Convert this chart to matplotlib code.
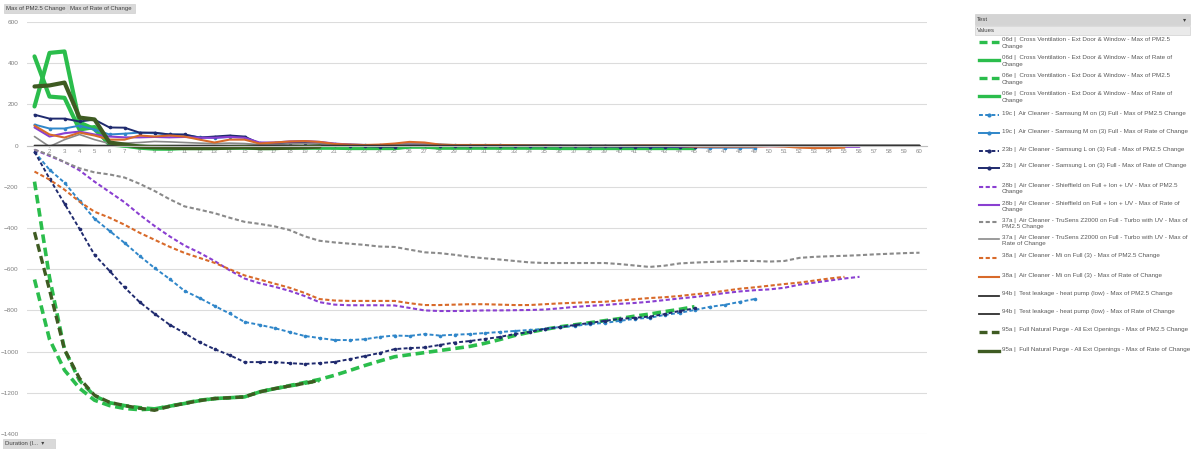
import matplotlib
matplotlib.use("Agg")
import matplotlib.pyplot as plt
import numpy as np
from matplotlib.lines import Line2D
from matplotlib.patches import Rectangle

plt.rcParams["font.family"] = ["Liberation Sans", "DejaVu Sans"]

W, H = 1192, 449
TEXT_COLOR = "#595959"

durations = list(range(1, 61))

# --- PM2.5 change series (dashed) ---
pm_06d = [-650, -940, -1090, -1178, -1236, -1262, -1276, -1282, -1278, -1265,
          -1252, -1238, -1228, -1224, -1220, -1195, -1180, -1165, -1150, -1135,
          -1115, -1092, -1068, -1046, -1025, -1015, -1005, -995, -985, -975,
          -960, -942, -922, -906, -892, -880, -870, -860, -850, -840,
          -828, -818, -806, -795, -782]
pm_06e = [-175, -640, -990, -1140, -1215, -1248, -1262, -1272, -1278, -1266,
          -1250, -1236, -1228, -1224, -1220, -1196, -1180, -1167, -1154, -1140]
pm_19c = [-30, -117, -180, -268, -355, -414, -472, -535, -594, -647,
          -705, -740, -778, -815, -856, -870, -886, -905, -924, -934,
          -944, -944, -940, -929, -922, -924, -915, -922, -918, -915,
          -910, -905, -900, -895, -890, -881, -876, -866, -861, -851,
          -841, -836, -822, -812, -798, -783, -773, -759, -745]
pm_23b = [-30, -160, -282, -404, -530, -608, -688, -759, -816, -869,
          -910, -954, -988, -1017, -1051, -1051, -1051, -1056, -1060, -1056,
          -1050, -1037, -1022, -1007, -988, -983, -980, -968, -956, -949,
          -939, -929, -915, -905, -890, -881, -871, -861, -851, -841,
          -836, -830, -818, -803, -790]
pm_28b = [-20, -50, -80, -120, -175, -225, -275, -335, -390, -440,
          -485, -520, -560, -605, -645, -668, -685, -705, -730, -760,
          -772, -775, -775, -775, -776, -788, -800, -803, -803, -802,
          -800, -800, -799, -798, -796, -790, -783, -778, -774, -768,
          -764, -758, -750, -742, -735, -726, -716, -708, -702, -698,
          -690, -675, -665, -655, -645, -637]
pm_37a = [-20, -45, -80, -110, -130, -140, -155, -185, -220, -260,
          -295, -311, -328, -350, -370, -380, -392, -410, -440, -462,
          -470, -476, -482, -490, -492, -505, -518, -522, -530, -540,
          -547, -553, -560, -567, -570, -570, -570, -570, -570, -575,
          -582, -589, -583, -572, -568, -565, -563, -560, -560, -563,
          -560, -545, -540, -537, -535, -532, -528, -525, -522, -520]
pm_38a = [-126, -165, -214, -272, -321, -350, -384, -423, -457, -491,
          -521, -545, -569, -600, -630, -650, -670, -690, -715, -745,
          -752, -754, -754, -754, -754, -765, -774, -774, -772, -770,
          -770, -772, -774, -774, -770, -766, -763, -760, -758, -752,
          -746, -740, -736, -730, -722, -715, -705, -695, -688, -680,
          -672, -665, -655, -645, -637]
pm_94b = [0, 0, 2, 2, 0, 0, 0, 0, 0, 0,
          0, 0, 0, 0, 0, 0, 0, 0, 0, 0,
          0, 0, 0, 0, 0, 0, 0, 0, 0, 0,
          0, 0, 0, 0, 0, 0, 0, 0, 0, 0,
          0, 0, 0, 0, 0, 0, 0, 0, 0, 0,
          0, 0, 0, 0, 0, 0, 0, 0, 0, 0]
pm_95a = [-420, -700, -990, -1130, -1212, -1246, -1262, -1275, -1285, -1266,
          -1252, -1238, -1228, -1224, -1220, -1196, -1180, -1167, -1154, -1140]

# --- Rate of change series (solid) ---
rate_06d = [433, 238, 232, 78, 90, 5, 0, -10, -15, -15,
            -12, -12, -12, -10, -10, -12, -12, -10, -10, -10,
            -10, -12, -12, -12, -12, -5, -5, -10, -10, -10,
            -10, -10, -10, -10, -10, -12, -12, -12, -12, -12,
            -12, -12, -12, -12, -12]
rate_06e = [190, 450, 457, 112, 80, 10, 0, -5, -10, -12,
            -10, -10, -10, -8, -8, -10, -10, -8, -8, -8,
            -8, -10, -10, -10, -10, -3, -3, -8, -8, -8,
            -8, -8, -8, -8, -8, -10, -10, -10, -10, -10,
            -10, -10, -10, -10, -10]
rate_19c = [102, 83, 83, 97, 78, 54, 58, 63, 60, 55,
            52, 40, 38, 42, 40, 12, 12, 15, 18, 15,
            8, 5, 3, 3, 0, 10, 10, 5, 3, 3,
            2, 2, 0, 0, 0, -2, -2, -3, -3, -3,
            -4, -5, -5, -6, -8, -10, -10, -10, -10]
rate_23b = [150, 131, 131, 117, 126, 88, 87, 63, 63, 54,
            54, 39, 44, 49, 44, 10, 10, 15, 12, 10,
            5, 0, -3, -5, -5, 5, 3, 0, -3, -3,
            -3, -3, -3, -3, -3, -3, -3, -4, -4, -5,
            -5, -5, -5, -6, -6]
rate_28b = [88, 44, 60, 68, 54, 44, 40, 40, 42, 40,
            42, 38, 38, 42, 38, 15, 15, 20, 22, 18,
            10, 5, 3, 2, 0, 8, 8, 3, 2, 2,
            0, 0, 0, 0, 0, 0, -2, -2, -2, -2,
            -2, -2, -2, -3, -3, -3, -3, -3, -3, -3,
            -3, -5, -5, -5, -6, -6]
rate_37a = [44, -5, 29, 54, 29, 10, 12, 15, 20, 18,
            15, 12, 10, 12, 10, 5, 5, 8, 10, 8,
            5, 3, 3, 3, 3, 8, 8, 5, 3, 3,
            3, 3, 3, 3, 3, 2, 2, 2, 2, 2,
            2, 2, 2, 2, 2, 2, 2, 2, 2, 2,
            2, 2, 2, 2, 2, 2, 2, 2, 2, 2]
rate_38a = [97, 54, 39, 63, 49, 29, 29, 49, 44, 49,
            44, 29, 15, 29, 29, 10, 15, 20, 22, 18,
            8, 5, 3, 5, 10, 18, 15, 5, 3, 3,
            3, 3, 2, 0, 0, -2, -2, -2, -2, -2,
            0, 0, 0, -2, -5, -5, -5, -5, -5, -3,
            -5, -10, -12, -12, -10]
rate_94b = [0, 0, 0, 0, 0, 0, 0, 0, 0, 0,
            0, 0, 0, 0, 0, 0, 0, 0, 0, 0,
            0, 0, 0, 0, 0, 0, 0, 0, 0, 0,
            0, 0, 0, 0, 0, 0, 0, 0, 0, 0,
            0, 0, 0, 0, 0, 0, 0, 0, 0, 0,
            0, 0, 0, 0, 0, 0, 0, 0, 0, 0]
rate_95a = [287, 292, 306, 136, 127, 15, 5, -5, -8, -10,
            -12, -12, -12, -10, -8, -12, -12, -10, -8, -5]

labels = [
    "06d |  Cross Ventilation - Ext Door & Window - Max of PM2.5\nChange",
    "06d |  Cross Ventilation - Ext Door & Window - Max of Rate of\nChange",
    "06e |  Cross Ventilation - Ext Door & Window - Max of PM2.5\nChange",
    "06e |  Cross Ventilation - Ext Door & Window - Max of Rate of\nChange",
    "19c |  Air Cleaner - Samsung M on (3) Full - Max of PM2.5 Change",
    "19c |  Air Cleaner - Samsung M on (3) Full - Max of Rate of Change",
    "23b |  Air Cleaner - Samsung L on (3) Full - Max of PM2.5 Change",
    "23b |  Air Cleaner - Samsung L on (3) Full - Max of Rate of Change",
    "28b |  Air Cleaner - Shieffield on Full + Ion + UV - Max of PM2.5\nChange",
    "28b |  Air Cleaner - Shieffield on Full + Ion + UV - Max of Rate of\nChange",
    "37a |  Air Cleaner - TruSens Z2000 on Full - Turbo with UV - Max of\nPM2.5 Change",
    "37a |  Air Cleaner - TruSens Z2000 on Full - Turbo with UV - Max of\nRate of Change",
    "38a |  Air Cleaner - Mi on Full (3) - Max of PM2.5 Change",
    "38a |  Air Cleaner - Mi on Full (3) - Max of Rate of Change",
    "94b |  Test leakage - heat pump (low) - Max of PM2.5 Change",
    "94b |  Test leakage - heat pump (low) - Max of Rate of Change",
    "95a |  Full Natural Purge - All Ext Openings - Max of PM2.5 Change",
    "95a |  Full Natural Purge - All Ext Openings - Max of Rate of Change",
]

GREEN = "#2bbd4c"
OLIVE = "#3e5b22"
BLUE = "#2f86c9"
NAVY = "#1f2a6e"
PURPLE = "#8a3fd1"
GREY = "#8a8a8a"
ORANGE = "#d86a2a"
DARK = "#2e2e2e"

BIG_DASH = (2.4, 1.3)
SMALL_DASH = (2.0, 1.2)

# (data, colour, linewidth, dashes or None, marker)
series = [
    (pm_06d, GREEN, 2.6, BIG_DASH, None),
    (rate_06d, GREEN, 3.0, None, None),
    (pm_06e, GREEN, 2.6, BIG_DASH, None),
    (rate_06e, GREEN, 3.0, None, None),
    (pm_19c, BLUE, 1.4, SMALL_DASH, "o"),
    (rate_19c, BLUE, 1.4, None, "o"),
    (pm_23b, NAVY, 1.4, SMALL_DASH, "o"),
    (rate_23b, NAVY, 1.4, None, "o"),
    (pm_28b, PURPLE, 1.5, SMALL_DASH, None),
    (rate_28b, PURPLE, 1.5, None, None),
    (pm_37a, GREY, 1.5, SMALL_DASH, None),
    (rate_37a, GREY, 1.2, None, None),
    (pm_38a, ORANGE, 1.5, SMALL_DASH, None),
    (rate_38a, ORANGE, 1.5, None, None),
    (pm_94b, DARK, 1.3, None, None),
    (rate_94b, DARK, 1.3, None, None),
    (pm_95a, OLIVE, 2.4, BIG_DASH, None),
    (rate_95a, OLIVE, 3.0, None, None),
]

fig = plt.figure(figsize=(W / 100, H / 100), dpi=100)
fig.patch.set_facecolor("white")


def px(x, y):
    return x / W, 1 - y / H


ax = fig.add_axes([27 / W, 1 - 434 / H, 900 / W, 412 / H])
ax.set_xlim(0.5, 60.5)
ax.set_ylim(-1400, 600)

for data, color, lw, dashes, marker in series:
    x = durations[:len(data)]
    line, = ax.plot(x, data, color=color, lw=lw, solid_capstyle="round",
                    marker=marker, markersize=2.6 if marker else 0,
                    markeredgewidth=0)
    if dashes:
        line.set_dashes(dashes)

ax.set_yticks(np.arange(-1400, 601, 200))
ax.yaxis.grid(True, color="#dcdcdc", lw=0.8)
ax.set_axisbelow(True)
ax.tick_params(axis="y", length=0, labelsize=4.6, labelcolor="#7f7f7f", pad=6)
ax.set_xticks(durations)
ax.set_xticklabels([str(d) for d in durations])
ax.tick_params(axis="x", length=0, labelsize=4.4, labelcolor="#8c8c8c", pad=2.5)
for side in ["left", "right", "top"]:
    ax.spines[side].set_visible(False)
ax.spines["bottom"].set_position(("data", 0))
ax.spines["bottom"].set_color("#bfbfbf")
ax.patch.set_alpha(0)


# field buttons
def button(x0, y0, x1, y1, text, fc="#d9d9d9"):
    fx, fy = px(x0, y1)
    fig.add_artist(Rectangle((fx, fy), (x1 - x0) / W, (y1 - y0) / H,
                             transform=fig.transFigure, facecolor=fc,
                             edgecolor="#c8c8c8", lw=0.4))
    if text:
        tx, ty = px(x0 + 2, (y0 + y1) / 2)
        fig.text(tx, ty, text, fontsize=4.3, color="#404040", va="center", ha="left")


button(4, 4, 67, 13, "Max of PM2.5 Change")
button(68, 4, 135, 13, "Max of Rate of Change")
button(3, 439, 55, 449, "Duration (I...  \u25be")

# legend panel
button(975, 14, 1190, 25, "Test", fc="#d4d4d4")
tx, ty = px(1185, 19.5)
fig.text(tx, ty, "\u25be", fontsize=4.5, color="#404040", va="center", ha="center",
         family=["DejaVu Sans"])
button(975, 26, 1190, 35, "Values", fc="#eaeaea")

legend_y = [42, 60, 78, 96, 115, 133, 151, 168, 187, 205,
            222, 239, 258, 277, 296, 314, 332, 351]
for (data, color, lw, dashes, marker), label, ly in zip(series, labels, legend_y):
    x0, y0 = px(979, ly)
    x1, _ = px(999, ly)
    ln = Line2D([x0, (x0 + x1) / 2, x1], [y0, y0, y0], transform=fig.transFigure,
                color=color, lw=min(lw, 2.4), marker=marker,
                markevery=[1] if marker else None,
                markersize=3 if marker else 0, markeredgewidth=0)
    if dashes:
        ln.set_dashes(dashes)
    fig.add_artist(ln)
    tx, ty = px(1002, ly - 4.5)
    fig.text(tx, ty, label, fontsize=4.5, color=TEXT_COLOR, va="top", ha="left",
             linespacing=1.4)

fig.savefig("out.png", dpi=100, facecolor="white")
